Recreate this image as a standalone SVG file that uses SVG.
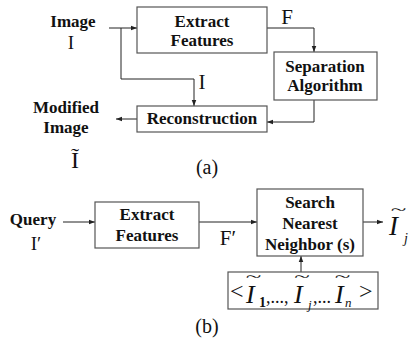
<svg xmlns="http://www.w3.org/2000/svg" width="411" height="346" viewBox="0 0 411 346">
  <style>
    .box { fill: #ffffff; stroke: #555555; stroke-width: 1.2; }
    .lbl { font-family: "Liberation Serif", "Times New Roman", serif; font-weight: bold; font-size: 17px; fill: #111111; text-anchor: middle; }
    .sym { font-family: "Liberation Serif", "Times New Roman", serif; fill: #111111; }
    .it { font-style: italic; }
    .wire { fill: none; stroke: #222222; stroke-width: 1; }
    .tl { font-family: "Liberation Serif", "Times New Roman", serif; fill: #111111; font-size: 24px; text-anchor: middle; }
  </style>
  <defs>
    <marker id="ah" viewBox="0 0 8 8" refX="8" refY="4" markerWidth="6" markerHeight="6" markerUnits="userSpaceOnUse" orient="auto">
      <path d="M0,1 L8,4 L0,7 z" fill="#222222"/>
    </marker>
  </defs>

  <rect width="411" height="346" fill="#ffffff"/>

  <!-- connectors -->
  <g id="connectors">
    <!-- (a) -->
    <path class="wire" d="M109,28 H137" marker-end="url(#ah)"/>
    <path class="wire" d="M121,28 V79 H194 V106" marker-end="url(#ah)"/>
    <path class="wire" d="M267,28 H314 V52" marker-end="url(#ah)"/>
    <path class="wire" d="M314,100 V122 H267" marker-end="url(#ah)"/>
    <path class="wire" d="M137,119 H116" marker-end="url(#ah)"/>
    <!-- (b) -->
    <path class="wire" d="M63,222 H95" marker-end="url(#ah)"/>
    <path class="wire" d="M199,222 H257" marker-end="url(#ah)"/>
    <path class="wire" d="M363,222 H383" marker-end="url(#ah)"/>
    <path class="wire" d="M301,272 V256" marker-end="url(#ah)"/>
  </g>

  <!-- (a) pipeline -->
  <g id="input-image">
    <text class="lbl" x="73" y="27">Image</text>
    <text class="sym" x="71" y="49" font-size="19" text-anchor="middle">I</text>
  </g>

  <g id="extract-a">
    <rect class="box" x="137" y="7" width="130" height="46"/>
    <text class="lbl" x="202" y="27">Extract</text>
    <text class="lbl" x="202" y="46">Features</text>
  </g>

  <g id="label-F">
    <text class="sym" x="287" y="24" font-size="21" text-anchor="middle">F</text>
  </g>

  <g id="label-I">
    <text class="sym" x="202" y="89" font-size="21" text-anchor="middle">I</text>
  </g>

  <g id="separation">
    <rect class="box" x="274" y="52" width="103" height="48"/>
    <text class="lbl" x="325" y="72">Separation</text>
    <text class="lbl" x="325" y="91">Algorithm</text>
  </g>

  <g id="reconstruction">
    <rect class="box" x="137" y="106" width="130" height="26"/>
    <text class="lbl" x="202" y="124">Reconstruction</text>
  </g>

  <g id="modified-image">
    <text class="lbl" x="66" y="113">Modified</text>
    <text class="lbl" x="66" y="133">Image</text>
    <text class="sym" x="75" y="168" font-size="24" text-anchor="middle">Ĩ</text>
  </g>

  <text class="sym" x="207" y="174" font-size="20" text-anchor="middle">(a)</text>

  <!-- (b) pipeline -->
  <g id="query">
    <text class="lbl" x="33" y="225">Query</text>
    <text class="sym" x="36" y="250" font-size="19" text-anchor="middle">I′</text>
  </g>

  <g id="extract-b">
    <rect class="box" x="95" y="202" width="104" height="46"/>
    <text class="lbl" x="147" y="220">Extract</text>
    <text class="lbl" x="147" y="241">Features</text>
  </g>

  <g id="label-Fprime">
    <text class="sym" x="228" y="245" font-size="21" text-anchor="middle">F′</text>
  </g>

  <g id="search">
    <rect class="box" x="257" y="189" width="106" height="67"/>
    <text class="lbl" x="310" y="208">Search</text>
    <text class="lbl" x="310" y="229">Nearest</text>
    <text class="lbl" x="310" y="250">Neighbor (s)</text>
  </g>

  <g id="result">
    <text class="tl" transform="translate(398.5 215) scale(1.2 0.6)">~</text>
    <text class="sym it" x="389" y="235" font-size="27">I</text>
    <text class="sym it" x="404" y="243" font-size="14">j</text>
  </g>

  <g id="database">
    <rect class="box" x="228" y="272" width="150" height="37"/>
    <text class="sym" x="230" y="299" font-size="24">&lt;</text>
    <text class="tl" transform="translate(253.5 281.5) scale(1.2 0.6)">~</text>
    <text class="sym it" x="246" y="303" font-size="26">I</text>
    <text class="sym" x="259" y="307" font-size="14" font-weight="bold">1</text>
    <text class="sym" x="266" y="303" font-size="18">,...,</text>
    <text class="tl" transform="translate(302 281.5) scale(1.2 0.6)">~</text>
    <text class="sym it" x="294" y="303" font-size="26">I</text>
    <text class="sym it" x="308" y="309" font-size="13">j</text>
    <text class="sym" x="313" y="303" font-size="18">,...</text>
    <text class="tl" transform="translate(342.5 281.5) scale(1.2 0.6)">~</text>
    <text class="sym it" x="335" y="303" font-size="26">I</text>
    <text class="sym it" x="345" y="307" font-size="13">n</text>
    <text class="sym" x="359" y="299" font-size="24">&gt;</text>
  </g>

  <text class="sym" x="207" y="333" font-size="20" text-anchor="middle">(b)</text>
</svg>
